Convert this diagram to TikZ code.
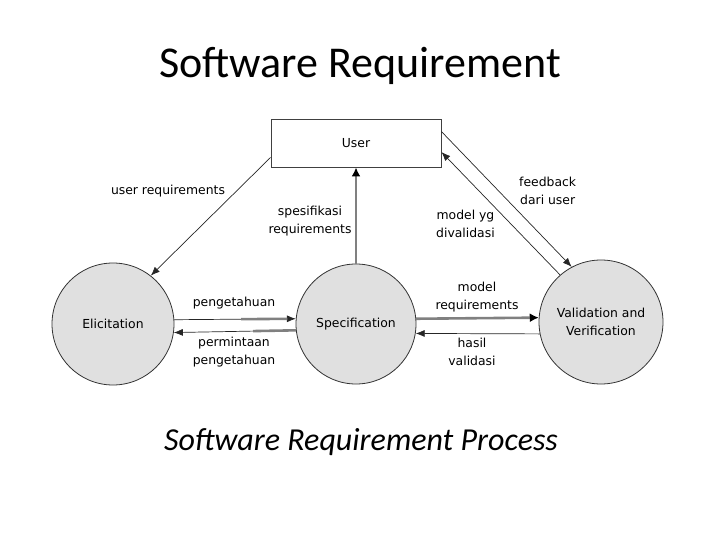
\documentclass[tikz,border=0pt]{standalone}
\usepackage{fontspec}
\setmainfont{Carlito}
\newfontfamily\diagfont{DejaVu Sans}
\usetikzlibrary{calc,arrows.meta}
\definecolor{circfill}{gray}{0.88}
\definecolor{thickgray}{gray}{0.5}
\begin{document}
\begin{tikzpicture}[x=1pt,y=-1pt,
  lbl/.style={font=\diagfont\fontsize{12.4}{17.5}\selectfont, align=center, inner sep=0pt},
  proc/.style={circle, draw=black!80, line width=0.8pt, fill=circfill, minimum size=#1, inner sep=0pt, font=\diagfont\fontsize{12.4}{18}\selectfont, align=center},
  thinarrow/.style={draw=black!85, line width=0.7pt, -{Latex[length=9pt,width=7pt]}},
  thickarrow/.style={draw=thickgray, line width=2.6pt, -{Latex[length=9pt,width=9pt,color=black]}},
  overlay/.style={draw=thickgray, line width=2.6pt}
]
\useasboundingbox (0,0) rectangle (720,540);
% titles
\node[font=\fontsize{44}{50}\selectfont, anchor=base] (title) at (360,78) {Software Requirement};
\node[font=\fontsize{32}{38}\selectfont\itshape, anchor=base] (subtitle) at (361,450) {Software Requirement Process};
% nodes
\node[draw=black!75, line width=0.9pt, fill=white, minimum width=170pt, minimum height=48pt, inner sep=0pt, font=\diagfont\fontsize{12.4}{18}\selectfont] (user) at (356,143) {User};
\node[proc=122pt] (eli) at (113,324) {Elicitation};
\node[proc=120pt] (spec) at (356,324) {Specification};
\node[proc=124pt] (val) at (601,322) {Validation and\\Verification};
% user requirements
\draw[thinarrow] ($(user.south west)+(0,-10)$) -- (eli.52);
\node[lbl] (lur) at (168,191) {user requirements};
% spesifikasi requirements
\draw[thickarrow] (spec.north) -- (spec.north |- user.south);
\node[lbl] (lsr) at (310,221) {spesifikasi\\requirements};
% model yg divalidasi
\draw[thinarrow] (val.131) -- ($(user.east)+(0,9)$);
\node[lbl, anchor=west] (lmv) at (436,224) {model yg\\divalidasi};
% feedback dari user
\draw[thinarrow] ($(user.north east)+(0,13)$) -- (val.118);
\node[lbl, anchor=west] (lfb) at (519,191) {feedback\\dari user};
% pengetahuan
\draw[thinarrow] (eli.4.7) -- (spec.175.2);
\draw[overlay] ($(eli.4.7)!0.55!(spec.175.2)$) -- ($(eli.4.7)!0.93!(spec.175.2)$);
\node[lbl] (lpg) at (234,303) {pengetahuan};
% permintaan pengetahuan
\draw[thinarrow] (spec.186.7) -- (eli.-8.5);
\draw[overlay] (spec.186.7) -- ($(spec.186.7)!0.35!(eli.-8.5)$);
\node[lbl] (lpp) at (234,352) {permintaan\\pengetahuan};
% model requirements
\draw[thickarrow] (spec.5.7) -- (val.176.3);
\node[lbl] (lmr) at (477,297) {model\\requirements};
% hasil validasi
\draw[thinarrow] (val.191.2) -- (spec.-9.6);
\node[lbl] (lhv) at (472,352) {hasil\\validasi};
\end{tikzpicture}
\end{document}
